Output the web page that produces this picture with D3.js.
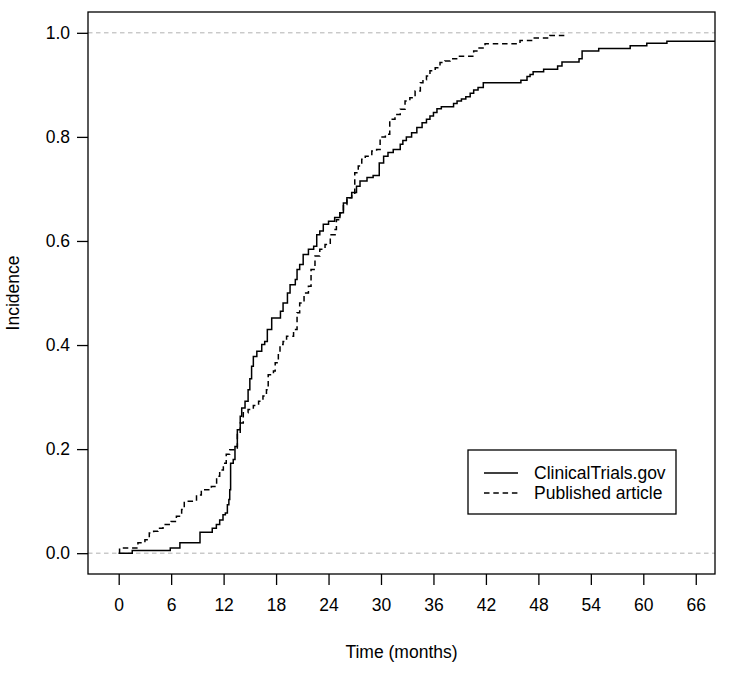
<!DOCTYPE html>
<html>
<head>
<meta charset="utf-8">
<script src="https://cdn.jsdelivr.net/npm/d3@7"></script>
<style>
  html, body { margin: 0; padding: 0; background: #fff; }
  svg text { font-family: "Liberation Sans", Arial, Helvetica, sans-serif; fill: #000; }
</style>
</head>
<body>
<svg id="chart" width="729" height="673"></svg>
<script>
// ---- Data ----
const seriesNames = ["ClinicalTrials.gov", "Published article"];

const ctTimes = [0, 1.55, 5.9, 7.0, 9.3, 10.7, 11.17, 11.55, 11.93, 12.2, 12.43, 12.6, 12.7, 12.8, 13.1, 13.3, 13.57, 13.9, 14.07, 14.45, 14.8, 15.0, 15.2, 15.4, 15.8, 16.36, 16.7, 17.0, 17.5, 18.5, 18.8, 19.3, 19.6, 20.2, 20.4, 20.7, 21.1, 21.7, 22.3, 22.65, 23.0, 23.4, 24.0, 24.7, 25.3, 25.7, 26.1, 26.65, 27.2, 27.6, 28.4, 29.1, 29.8, 30.3, 30.8, 31.4, 32.2, 32.5, 32.9, 33.5, 34.1, 34.7, 35.2, 35.6, 36.0, 36.4, 36.9, 38.3, 38.7, 39.2, 39.7, 40.2, 40.6, 41.1, 41.7, 46.0, 46.7, 47.05, 47.4, 48.6, 50.2, 50.7, 52.65, 53.0, 54.9, 58.5, 60.4, 62.7, 70];
const ctValues = [0, 0.005, 0.01, 0.02, 0.04, 0.048, 0.055, 0.064, 0.074, 0.077, 0.093, 0.103, 0.122, 0.173, 0.18, 0.205, 0.237, 0.263, 0.279, 0.292, 0.314, 0.335, 0.359, 0.378, 0.388, 0.401, 0.407, 0.43, 0.452, 0.465, 0.481, 0.50, 0.516, 0.526, 0.545, 0.555, 0.574, 0.584, 0.59, 0.612, 0.619, 0.632, 0.638, 0.645, 0.654, 0.673, 0.683, 0.693, 0.705, 0.715, 0.722, 0.726, 0.75, 0.763, 0.77, 0.776, 0.786, 0.793, 0.80, 0.808, 0.818, 0.827, 0.834, 0.84, 0.847, 0.854, 0.858, 0.864, 0.869, 0.873, 0.877, 0.884, 0.89, 0.895, 0.904, 0.909, 0.916, 0.92, 0.925, 0.93, 0.936, 0.944, 0.95, 0.965, 0.97, 0.975, 0.98, 0.984, 0.984];

const paTimes = [0, 0.1, 2.2, 3.0, 3.5, 4.0, 4.5, 5.07, 6.0, 6.6, 7.2, 7.5, 8.9, 9.45, 10.6, 11.2, 11.55, 11.97, 12.3, 12.7, 13.57, 13.9, 14.25, 14.8, 15.4, 16.0, 16.5, 16.9, 17.1, 17.7, 17.9, 18.26, 18.45, 18.8, 19.2, 20.0, 20.4, 20.7, 21.2, 21.7, 22.0, 22.45, 23.0, 23.6, 24.2, 24.75, 24.9, 25.3, 25.7, 26.1, 26.65, 27.0, 27.4, 27.8, 28.2, 28.95, 29.5, 29.9, 30.5, 31.0, 31.6, 32.2, 32.75, 33.3, 33.9, 34.5, 34.8, 35.2, 35.6, 36.2, 36.75, 37.3, 37.9, 38.65, 40.6, 41.1, 41.9, 45.9, 47.4, 49.3, 51.4];
const paValues = [0, 0.01, 0.02, 0.026, 0.039, 0.042, 0.048, 0.055, 0.061, 0.071, 0.084, 0.10, 0.112, 0.122, 0.128, 0.148, 0.16, 0.173, 0.19, 0.199, 0.231, 0.25, 0.27, 0.276, 0.284, 0.292, 0.302, 0.314, 0.343, 0.35, 0.366, 0.385, 0.401, 0.407, 0.417, 0.43, 0.462, 0.481, 0.50, 0.513, 0.545, 0.571, 0.584, 0.593, 0.612, 0.622, 0.641, 0.654, 0.67, 0.683, 0.689, 0.731, 0.744, 0.757, 0.763, 0.773, 0.776, 0.80, 0.805, 0.834, 0.843, 0.853, 0.869, 0.875, 0.888, 0.904, 0.91, 0.917, 0.927, 0.933, 0.943, 0.946, 0.95, 0.955, 0.965, 0.971, 0.979, 0.985, 0.99, 0.995, 0.995];

const xTicks = [0, 6, 12, 18, 24, 30, 36, 42, 48, 54, 60, 66];
const yTicks = [0.0, 0.2, 0.4, 0.6, 0.8, 1.0];
const refLines = [0, 1];
const xLabel = "Time (months)";
const yLabel = "Incidence";

// ---- Layout ----
const svg = d3.select("#chart");
const L = 88, R = 715, T = 12, B = 574;
const FS = 17.5;

const x = d3.scaleLinear().domain([-3.51, 68.2]).range([L, R]);
const y = d3.scaleLinear().domain([-0.04, 1.04]).range([B, T]);

svg.append("defs").append("clipPath").attr("id", "plotclip")
  .append("rect").attr("x", L).attr("y", T).attr("width", R - L).attr("height", B - T);

const plot = svg.append("g").attr("clip-path", "url(#plotclip)");

// reference dashed lines
plot.selectAll("line.ref").data(refLines).enter().append("line")
  .attr("class", "ref")
  .attr("x1", L).attr("x2", R)
  .attr("y1", d => y(d)).attr("y2", d => y(d))
  .attr("stroke", "#b0b0b0").attr("stroke-width", 1)
  .attr("stroke-dasharray", "4.5,3.5");

const line = d3.line().x(d => x(d[0])).y(d => y(d[1])).curve(d3.curveStepAfter);
const ctData = ctTimes.map((t, i) => [t, ctValues[i]]);
const paData = paTimes.map((t, i) => [t, paValues[i]]);

plot.append("path").datum(ctData).attr("d", line)
  .attr("fill", "none").attr("stroke", "#000").attr("stroke-width", 1.5);
plot.append("path").datum(paData).attr("d", line)
  .attr("fill", "none").attr("stroke", "#000").attr("stroke-width", 1.5)
  .attr("stroke-dasharray", "5.5,3.8");

// box
svg.append("rect").attr("x", L).attr("y", T).attr("width", R - L).attr("height", B - T)
  .attr("fill", "none").attr("stroke", "#000").attr("stroke-width", 1.3);

// axes
const xAxis = d3.axisBottom(x).tickValues(xTicks).tickSize(11).tickPadding(14).tickFormat(d3.format("d"));
const gx = svg.append("g").attr("transform", `translate(0,${B})`).call(xAxis);
gx.select(".domain").remove();
gx.selectAll(".tick line").attr("stroke", "#000").attr("stroke-width", 1.3);
gx.selectAll(".tick text").attr("font-size", FS).attr("font-family", "Liberation Sans, Arial, sans-serif").attr("fill", "#000");

const yAxis = d3.axisLeft(y).tickValues(yTicks).tickSize(11).tickPadding(7).tickFormat(d3.format(".1f"));
const gy = svg.append("g").attr("transform", `translate(${L},0)`).call(yAxis);
gy.select(".domain").remove();
gy.selectAll(".tick line").attr("stroke", "#000").attr("stroke-width", 1.3);
gy.selectAll(".tick text").attr("font-size", FS).attr("font-family", "Liberation Sans, Arial, sans-serif").attr("fill", "#000");

// axis titles
svg.append("text").attr("x", (L + R) / 2).attr("y", 658)
  .attr("text-anchor", "middle").attr("font-size", FS).text(xLabel);
svg.append("text").attr("transform", `translate(19,${(T + B) / 2}) rotate(-90)`)
  .attr("text-anchor", "middle").attr("font-size", FS).text(yLabel);

// legend
const lg = svg.append("g");
lg.append("rect").attr("x", 468).attr("y", 450).attr("width", 208).attr("height", 64)
  .attr("fill", "#fff").attr("stroke", "#000").attr("stroke-width", 1.3);
const dashes = [null, "5.5,3.8"];
seriesNames.forEach((name, i) => {
  const cy = 473 + i * 20;
  const ln = lg.append("line").attr("x1", 484).attr("x2", 518).attr("y1", cy).attr("y2", cy)
    .attr("stroke", "#000").attr("stroke-width", 1.5);
  if (dashes[i]) ln.attr("stroke-dasharray", dashes[i]);
  lg.append("text").attr("x", 534).attr("y", cy).attr("dy", "0.35em")
    .attr("font-size", FS).text(name);
});
</script>
</body>
</html>
